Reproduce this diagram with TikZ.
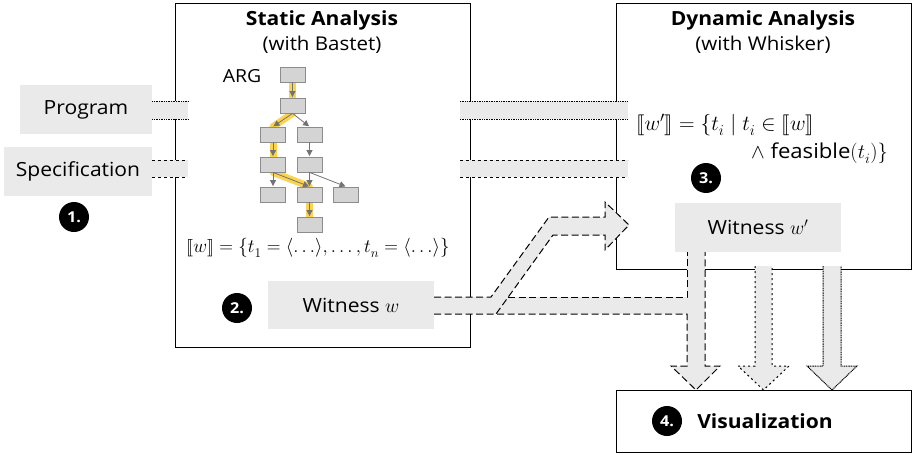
\RequirePackage{fix-cm}
\documentclass[tikz,border=0pt]{standalone}
\usepackage{amsmath}
\usepackage{stmaryrd}
\usepackage{fontspec}
\setmainfont{Open Sans}[FakeStretch=1.08]
\usetikzlibrary{arrows.meta}
\definecolor{boxgray}{RGB}{234,234,234}
\definecolor{argfill}{RGB}{212,212,212}
\definecolor{argdraw}{RGB}{140,140,140}
\definecolor{argedge}{RGB}{115,115,115}
\definecolor{hlyellow}{RGB}{250,205,50}
\newcommand{\lsub}[1]{_{\raisebox{-2.5pt}{$\scriptstyle #1$}}}
\tikzset{
  bigbox/.style={draw, line width=1.3pt, fill=white, inner sep=0pt, anchor=north west},
  graybox/.style={fill=boxgray, inner sep=0pt, minimum height=49, font=\fontsize{19.5}{21}\selectfont},
  num/.style={circle, fill=black, text=white, inner sep=0pt, minimum size=30, font=\bfseries\fontsize{15}{15}\selectfont},
  argn/.style={draw=argdraw, fill=argfill, line width=0.8pt, minimum width=25, minimum height=15, inner sep=0pt},
  arge/.style={draw=argedge, line width=0.8pt, -{Triangle[length=6pt,width=6pt]}, shorten >=0.5pt},
  hl/.style={draw=hlyellow, line width=7pt, line cap=round, opacity=0.85},
  titlef/.style={font=\bfseries\fontsize{19.5}{21}\selectfont},
  subf/.style={font=\fontsize{19}{21}\selectfont},
  mathf/.style={font=\fontsize{19}{21}\selectfont, inner sep=0pt},
  mathg/.style={font=\fontsize{21.5}{23}\selectfont, inner sep=0pt},
  mathh/.style={font=\fontsize{20.5}{22}\selectfont, inner sep=0pt},
  progline/.style={line width=1pt, dash pattern=on 1pt off 0.7pt},
  specline/.style={line width=1pt, dash pattern=on 3pt off 3pt},
  witline/.style={line width=1pt, dash pattern=on 7pt off 3.5pt},
  midline/.style={line width=1pt, dash pattern=on 2pt off 3pt},
}
\begin{document}
\begin{tikzpicture}[x=1pt,y=-1pt]
\useasboundingbox (0,0) rectangle (913,455);

% main boxes
\node[bigbox, minimum width=295, minimum height=344] (static) at (175,3) {};
\node[bigbox, minimum width=295, minimum height=266] (dynamic) at (616,3) {};
\node[bigbox, minimum width=295, minimum height=62] (vis) at (616,390) {};

\node[titlef] (stitle) at (322,20) {Static Analysis};
\node[subf] (ssub) at (322,45) {(with Bastet)};
\node[titlef] (dtitle) at (763,20) {Dynamic Analysis};
\node[subf] (dsub) at (763,45) {(with Whisker)};

% input nodes
\node[graybox, minimum width=132] (prog) at (86,109.5) {Program};
\node[graybox, minimum width=148] (spec) at (78,171.5) {Specification};
\node[num] (n1) at (74,217) {1.};

% program band
\fill[boxgray] (prog.east |- 0,101) rectangle (188,119);
\draw[progline] (prog.east |- 0,101) -- (188,101) (prog.east |- 0,119) -- (188,119);
\fill[boxgray] (460,101) rectangle (628,119);
\draw[progline] (460,101) -- (628,101) (460,119) -- (628,119);
% spec band
\fill[boxgray] (spec.east |- 0,160) rectangle (188,177);
\draw[specline] (spec.east |- 0,160) -- (188,160) (spec.east |- 0,177) -- (188,177);
\fill[boxgray] (460,160) rectangle (628,177);
\draw[specline] (460,160) -- (628,160) (460,177) -- (628,177);

% ARG
\node[font=\fontsize{18}{20}\selectfont] (arglbl) at (242,76) {ARG};
\node[argn] (a1) at (292.5,74.5) {};
\node[argn] (a2) at (292.5,105.5) {};
\node[argn] (a3) at (273,134.5) {};
\node[argn] (a4) at (309.5,134.5) {};
\node[argn] (a5) at (273,164.5) {};
\node[argn] (a6) at (309.5,164.5) {};
\node[argn] (a7) at (273,194.5) {};
\node[argn] (a8) at (309.5,194.5) {};
\node[argn] (a9) at (346,194.5) {};
\node[argn] (a10) at (309.5,224.5) {};
\draw[hl] (a1.south) -- (a2.north);
\draw[hl] (a2.south) -- (a3.north);
\draw[hl] (a3.south) -- (a5.north);
\draw[hl] (a5.south) -- (a8.north);
\draw[hl] (a8.south) -- (a10.north);
\node[argn] at (a1) {};
\node[argn] at (a2) {};
\node[argn] at (a3) {};
\node[argn] at (a5) {};
\node[argn] at (a8) {};
\node[argn] at (a10) {};
\draw[arge] (a1.south) -- (a2.north);
\draw[arge] (a2.south) -- (a3.north);
\draw[arge] (a2.south) -- (a4.north);
\draw[arge] (a3.south) -- (a5.north);
\draw[arge] (a4.south) -- (a6.north);
\draw[arge] (a5.south) -- (a7.north);
\draw[arge] (a5.south) -- (a8.north);
\draw[arge] (a6.south) -- (a8.north);
\draw[arge] (a6.south) -- (a9.north);
\draw[arge] (a8.south) -- (a10.north);

\node[mathf, anchor=base] (wset) at (318,252) {$\llbracket w\rrbracket = \{t\lsub{1} = \langle\ldots\rangle, \ldots, t\lsub{n} = \langle\ldots\rangle\}$};

% witness w
\node[graybox, minimum width=166, minimum height=48] (wit) at (351,305) {Witness $w$};
\node[num] (n2) at (237,308) {2.};

% dynamic contents
\node[mathg, anchor=base west] (wp1) at (636,130) {$\llbracket w'\rrbracket = \{t\lsub{i} \mid t\lsub{i} \in \llbracket w\rrbracket$};
\node[mathh, anchor=base east] (wp2) at (888,158) {$\wedge$ feasible$(t\lsub{i})\}$};
\node[num] (n3) at (706,178) {3.};
\node[graybox, minimum width=166, minimum height=49] (witp) at (758,227.5) {Witness $w'$};

% witness band with branch arrow
\fill[boxgray] (wit.east |- 0,297) rectangle (696,314);
\fill[boxgray] (491,297) -- (549,217) -- (605,217) -- (605,202) -- (629,225) -- (605,250) -- (605,235) -- (553,235) -- (496,314) -- cycle;
\fill[boxgray] (687,252) rectangle (705,366);
\fill[boxgray] (671,366) -- (696,390) -- (720,366) -- cycle;
\draw[witline] (wit.east |- 0,297) -- (491,297) -- (549,217) -- (605,217) -- (605,202) -- (629,225) -- (605,250) -- (605,235) -- (553,235) -- (496,314);
\draw[witline] (508,297) -- (687,297) -- (687,252);
\draw[witline] (wit.east |- 0,314) -- (687,314) -- (687,366) -- (671,366) -- (696,390) -- (720,366) -- (705,366) -- (705,252);

% middle arrow (specification)
\fill[boxgray] (755,266) rectangle (772,366);
\fill[boxgray] (738,366) -- (763.5,390) -- (789,366) -- cycle;
\draw[midline] (755,266) -- (755,366) -- (738,366) -- (763.5,390) -- (789,366) -- (772,366) -- (772,266);

% right arrow (program)
\fill[boxgray] (823,266) rectangle (841,366);
\fill[boxgray] (807,366) -- (832,390) -- (857,366) -- cycle;
\draw[progline] (823,266) -- (823,366) -- (807,366) -- (832,390) -- (857,366) -- (841,366) -- (841,266);

% visualization
\node[num] (n4) at (667,421) {4.};
\node[titlef] (vislbl) at (765,421) {Visualization};
\end{tikzpicture}
\end{document}
